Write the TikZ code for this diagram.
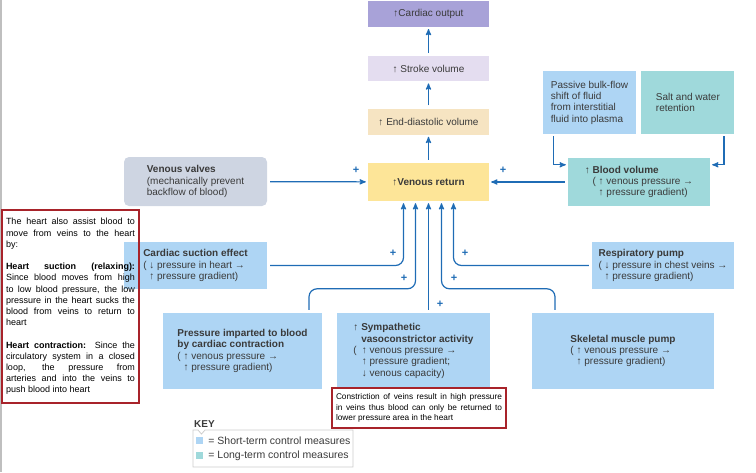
\documentclass[tikz,border=0pt]{standalone}
\usepackage{fontspec}
\setmainfont{Liberation Sans}
\usetikzlibrary{arrows,positioning}

\definecolor{coPurple}{HTML}{A8A2D8}
\definecolor{svLilac}{HTML}{E4DDF0}
\definecolor{edvTan}{HTML}{F6E4C2}
\definecolor{vrYellow}{HTML}{FDE598}
\definecolor{valveGray}{HTML}{CED5E2}
\definecolor{shortBlue}{HTML}{AED5F4}
\definecolor{longTeal}{HTML}{9FD9DB}
\definecolor{arrowBlue}{HTML}{1F6CB5}
\definecolor{noteRed}{HTML}{A8232A}
\definecolor{txtGray}{HTML}{3A3A3A}

\begin{document}
\begin{tikzpicture}[x=1pt,y=-1pt,>=stealth',
  box/.style={rectangle,inner sep=0pt,align=left,text=txtGray,
    font=\fontsize{10}{11.3}\selectfont},
  shortbox/.style={box,fill=shortBlue},
  longbox/.style={box,fill=longTeal},
  flow/.style={->,draw=arrowBlue,line width=1.2pt,shorten >=2pt,shorten <=3pt},
  note/.style={draw=noteRed,line width=1.1pt,inner xsep=4pt,inner ysep=0pt,
    align=justify,font=\fontsize{8.3}{10.5}\selectfont},
  plussign/.style={text=arrowBlue,font=\bfseries\fontsize{11}{11}\selectfont,inner sep=0pt}]

  \useasboundingbox (0,0) rectangle (756,472);
  \draw[black!25,line width=1.2pt] (1,0) -- (1,472);

  % main column
  \node[box,fill=vrYellow,minimum width=121pt,minimum height=38pt] (vr) at (428.5,182)
    {\textbf{↑Venous return}};
  \node[box,fill=edvTan,minimum width=121pt,minimum height=26pt,above=28pt of vr] (edv)
    {↑ End-diastolic volume};
  \node[box,fill=svLilac,minimum width=121pt,minimum height=25pt,above=27pt of edv] (sv)
    {↑ Stroke volume};
  \node[box,fill=coPurple,minimum width=121pt,minimum height=26pt,above=29pt of sv] (co)
    {↑Cardiac output};

  % side boxes
  \node[box,fill=valveGray,rounded corners=5pt,minimum width=143pt,minimum height=49pt] (vv) at (195.5,181.5)
    {\textbf{Venous valves}\\(mechanically prevent\\backflow of blood)};
  \node[longbox,minimum width=142pt,minimum height=48pt] (bv) at (639,182)
    {↑ \textbf{Blood volume}\\\phantom{↑ }( ↑ venous pressure →\\\phantom{↑ ( }↑ pressure gradient)};
  \node[shortbox,minimum width=93pt,minimum height=63pt] (pbf) at (589.5,102.5)
    {Passive bulk-flow\\shift of fluid\\from interstitial\\fluid into plasma};
  \node[longbox,minimum width=93pt,minimum height=63pt,right=5pt of pbf] (swr)
    {Salt and water\\retention};

  % lower boxes
  \node[shortbox,minimum width=143pt,minimum height=47pt] (cse) at (195.5,265.5)
    {\textbf{Cardiac suction effect}\\( ↓ pressure in heart →\\\phantom{( }↑ pressure gradient)};
  \node[shortbox,minimum width=142pt,minimum height=47pt] (rp) at (663,265.5)
    {\textbf{Respiratory pump}\\( ↓ pressure in chest veins →\\\phantom{( }↑ pressure gradient)};
  \node[shortbox,minimum width=159pt,minimum height=76pt] (pic) at (242.5,351)
    {\textbf{Pressure imparted to blood}\\\textbf{by cardiac contraction}\\( ↑ venous pressure →\\\phantom{( }↑ pressure gradient)};
  \node[shortbox,minimum width=153pt,minimum height=76pt] (sva) at (413.5,351)
    {↑ \textbf{Sympathetic}\\\phantom{↑ }\textbf{vasoconstrictor activity}\\(\hspace{5pt}↑ venous pressure →\\\phantom{(}\hspace{5pt}↑ pressure gradient;\\\phantom{(}\hspace{5pt}↓ venous capacity)};
  \node[shortbox,minimum width=182pt,minimum height=76pt] (smp) at (623,351)
    {\textbf{Skeletal muscle pump}\\( ↑ venous pressure →\\\phantom{( }↑ pressure gradient)};

  % arrows
  \draw[flow] (sv) -- (co);
  \draw[flow] (edv) -- (sv);
  \draw[flow] (vr) -- (edv);
  \draw[flow] (vv) -- (vr);
  \draw[flow] (bv) -- (vr);
  \draw[flow,shorten <=2pt] ([xshift=-36pt]pbf.south) |- ([yshift=-7pt]bv.north west);
  \draw[flow,shorten <=2pt] ([xshift=36pt]swr.south) |- ([yshift=-7pt]bv.north east);
  \draw[flow,rounded corners=8pt] (cse) -| ([xshift=-25pt]vr.south);
  \draw[flow,rounded corners=8pt] ([xshift=66.5pt]pic.north) -- ++(0,-24) -| ([xshift=-13pt]vr.south);
  \draw[flow] (sva.north -| vr.south) -- (vr.south);
  \draw[flow,rounded corners=8pt] ([xshift=-68pt]smp.north) -- ++(0,-24) -| ([xshift=13pt]vr.south);
  \draw[flow,rounded corners=8pt] (rp) -| ([xshift=25pt]vr.south);

  \node[plussign] (p1) at (356,170) {+};
  \node[plussign] (p2) at (503,170) {+};
  \node[plussign] (p3) at (393,253) {+};
  \node[plussign] (p4) at (404,278) {+};
  \node[plussign] (p5) at (440,304) {+};
  \node[plussign] (p6) at (454,278) {+};
  \node[plussign] (p7) at (465,253) {+};

  % notes
  \node[note,text width=129pt,minimum height=193pt,font=\fontsize{9}{11.2}\selectfont] (note1) at (70.5,306.5)
    {The heart also assist blood to\linebreak move from veins to the heart\linebreak by:\par\vspace{11.2pt}
     \textbf{Heart suction (relaxing):}\linebreak Since blood moves from high\linebreak to low blood pressure, the low\linebreak
     pressure in the heart sucks the\linebreak blood from veins to return to\linebreak heart\par\vspace{11.2pt}
     \textbf{Heart contraction:} Since the\linebreak circulatory system in a closed\linebreak loop, the pressure from\linebreak
     arteries and into the veins to\linebreak push blood into heart};
  \node[note,fill=white,text width=166pt,minimum height=40pt] (note2) at (419,408)
    {Constriction of veins result in high pressure\linebreak in veins thus blood can only be returned to\linebreak lower pressure area in the heart};

  % key
  \node[anchor=west,inner sep=0pt,text=txtGray,font=\bfseries\fontsize{10}{12}\selectfont] (key) at (194,424) {KEY};
  \draw[black!20,line width=0.8pt] (193,430) -- (198,430) -- (201.5,434) -- (205,430) -- (353,430)
    -- (353,467) -- (193,467) -- cycle;
  \node[fill=shortBlue,minimum size=7pt,inner sep=0pt] (kshort) at (199.5,440.5) {};
  \node[anchor=west,inner sep=0pt,text=txtGray,font=\fontsize{10.5}{12}\selectfont,right=5pt of kshort] (kshorttxt)
    {= Short-term control measures};
  \node[fill=longTeal,minimum size=7pt,inner sep=0pt] (klong) at (199.5,455.5) {};
  \node[anchor=west,inner sep=0pt,text=txtGray,font=\fontsize{10.5}{12}\selectfont,right=5pt of klong] (klongtxt)
    {= Long-term control measures};
\end{tikzpicture}
\end{document}
